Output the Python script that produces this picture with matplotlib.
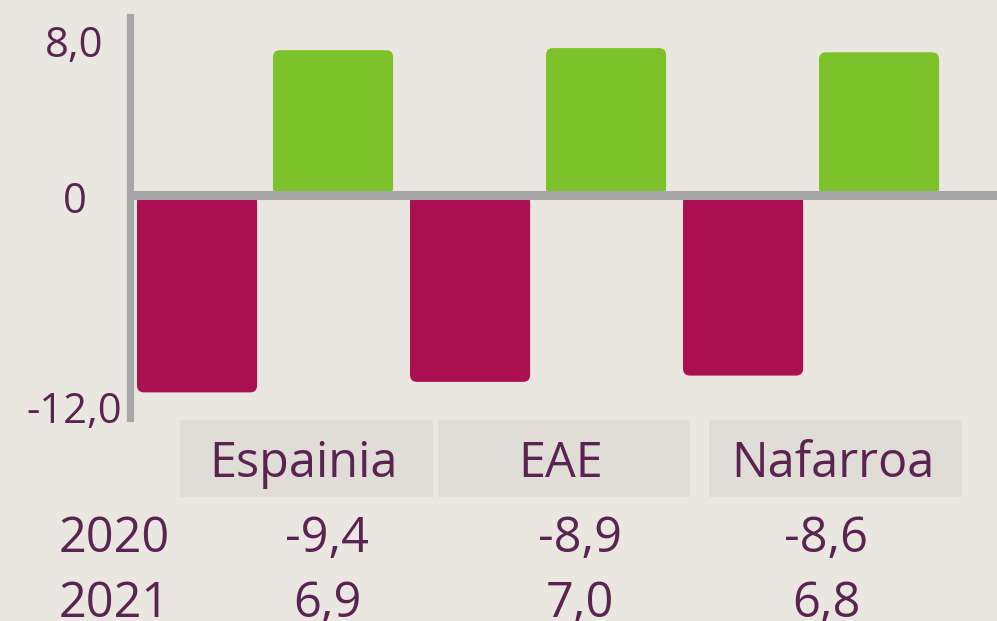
import matplotlib.pyplot as plt
from matplotlib.patches import FancyBboxPatch, Rectangle

# data
regions = ['Espainia', 'EAE', 'Nafarroa']
years = ['2020', '2021']
values_2020 = [-9.4, -8.9, -8.6]
values_2021 = [6.9, 7.0, 6.8]
axis_labels = ['8,0', '0', '-12,0']

bg = '#EAE7E0'
box_col = '#E0DDD6'
red = '#AA1050'
green = '#7DC22B'
grey = '#A6A6A6'
txt = '#5B2352'

plt.rcParams['font.family'] = ['Open Sans', 'DejaVu Sans']

W, H = 997, 621
fig = plt.figure(figsize=(W / 100, H / 100), dpi=100)
fig.patch.set_facecolor(bg)

# axes placed in pixel terms
ax = fig.add_axes([130 / W, 1 - 418 / H, (W - 130) / W, 401 / H])
ax.set_facecolor(bg)
ax.set_xlim(-0.4945, 2.681)
ax.set_ylim(-10.62, 8.48)

x = range(len(regions))
off = 0.249
bw = 0.44
bars1 = ax.bar([i - off for i in x], values_2020, width=bw, color=red)
bars2 = ax.bar([i + off for i in x], values_2021, width=bw, color=green)

# swap plain bars for rounded ones
for bars, col in [(bars1, red), (bars2, green)]:
    for b in bars:
        bx, bwid = b.get_x(), b.get_width()
        y0 = min(b.get_y(), b.get_y() + b.get_height())
        bh = abs(b.get_height())
        b.remove()
        p = FancyBboxPatch((bx, y0), bwid, bh,
                           boxstyle='round,pad=0,rounding_size=0.026',
                           mutation_aspect=13, fc=col, ec='none', zorder=2)
        ax.add_patch(p)

# zero line and left axis
ax.axhline(0, xmin=7 / 867, xmax=1, color=grey, lw=6.5, zorder=3)
for s in ['top', 'right', 'bottom']:
    ax.spines[s].set_visible(False)
ax.spines['left'].set_color(grey)
ax.spines['left'].set_linewidth(5.2)
ax.set_xticks([])
ax.set_yticks([])

# axis labels
ax.text(-0.031, 0.928, axis_labels[0], transform=ax.transAxes, ha='right',
        va='center', fontsize=30, color=txt)
ax.text(-0.0496, 0.539, axis_labels[1], transform=ax.transAxes,
        ha='right', va='center', fontsize=30, color=txt)
ax.text(-0.0092, 0.015, axis_labels[2], transform=ax.transAxes, ha='right',
        va='center', fontsize=30, color=txt)

# category boxes
boxes = [(180, 433), (438, 690), (709, 962)]
for (x0, x1), name in zip(boxes, regions):
    fig.patches.append(Rectangle((x0 / W, 1 - 497 / H), (x1 - x0) / W, 77 / H,
                                 transform=fig.transFigure, fc=box_col, ec='none'))
    fig.text((x0 + x1) / 2 / W - 3 / W, 1 - 477 / H, name, ha='center',
             va='baseline', fontsize=35, color=txt)

# value table
val_x = [327, 580, 826]
rows = [(values_2020, 552), (values_2021, 617)]
for yr, (vals, base) in zip(years, rows):
    fig.text(114 / W, 1 - base / H, yr, ha='center', va='baseline',
             fontsize=35, color=txt)
    for vx, v in zip(val_x, vals):
        fig.text(vx / W, 1 - base / H, f'{v:.1f}'.replace('.', ','),
                 ha='center', va='baseline', fontsize=35, color=txt)

fig.savefig('out.png', dpi=100, facecolor=bg)
